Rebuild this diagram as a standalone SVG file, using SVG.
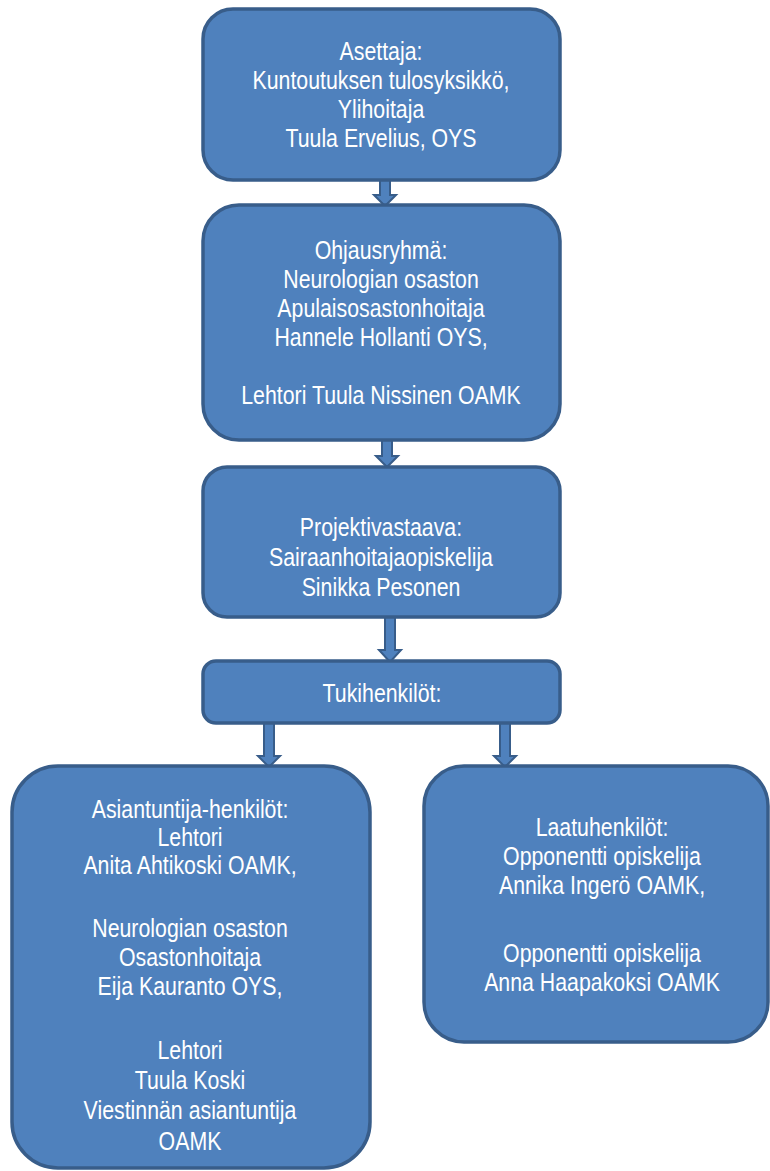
<svg xmlns="http://www.w3.org/2000/svg" width="770" height="1171" viewBox="0 0 770 1171">
<style>
.box{fill:#4F81BD;stroke:#385D8A;stroke-width:3.5}
.arr{fill:#4F81BD;stroke:#385D8A;stroke-width:2;stroke-linejoin:miter}
text{font-family:"Liberation Sans","Arial",sans-serif;font-size:26px;fill:#FFFFFF;text-anchor:middle}
</style>
<rect width="770" height="1171" fill="#FFFFFF"/>
<g id="connectors">
<polygon class="arr" points="380,180 390,180 390,195 396,195 385,206 374,195 380,195"/>
<polygon class="arr" points="382,440 392,440 392,456 398,456 387,467 376,456 382,456"/>
<polygon class="arr" points="385,617 395,617 395,650 401,650 390,662 379,650 385,650"/>
<polygon class="arr" points="264,723 274,723 274,756 280,756 269,767 258,756 264,756"/>
<polygon class="arr" points="500,723 510,723 510,756 516,756 505,767 494,756 500,756"/>
</g>
<g id="asettaja">
<rect class="box" x="203" y="9" width="357" height="171" rx="30"/>
<g transform="translate(381 0) scale(0.82 1)">
<text x="0" y="60">Asettaja:</text>
<text x="0" y="89">Kuntoutuksen tulosyksikkö,</text>
<text x="0" y="118">Ylihoitaja</text>
<text x="0" y="147">Tuula Ervelius, OYS</text>
</g>
</g>
<g id="ohjausryhma">
<rect class="box" x="203" y="205" width="357" height="235" rx="36"/>
<g transform="translate(381 0) scale(0.82 1)">
<text x="0" y="259">Ohjausryhmä:</text>
<text x="0" y="288">Neurologian osaston</text>
<text x="0" y="317">Apulaisosastonhoitaja</text>
<text x="0" y="346">Hannele Hollanti OYS,</text>
<text x="0" y="404">Lehtori Tuula Nissinen OAMK</text>
</g>
</g>
<g id="projektivastaava">
<rect class="box" x="203" y="467" width="357" height="150" rx="24"/>
<g transform="translate(381 0) scale(0.82 1)">
<text x="0" y="536">Projektivastaava:</text>
<text x="0" y="566">Sairaanhoitajaopiskelija</text>
<text x="0" y="596">Sinikka Pesonen</text>
</g>
</g>
<g id="tukihenkilot">
<rect class="box" x="203" y="661" width="357" height="62" rx="13"/>
<g transform="translate(382 0) scale(0.82 1)">
<text x="0" y="702">Tukihenkilöt:</text>
</g>
</g>
<g id="asiantuntijat">
<rect class="box" x="12" y="766" width="358" height="402" rx="46"/>
<g transform="translate(190 0) scale(0.82 1)">
<text x="0" y="818">Asiantuntija-henkilöt:</text>
<text x="0" y="846">Lehtori</text>
<text x="0" y="874">Anita Ahtikoski OAMK,</text>
<text x="0" y="937">Neurologian osaston</text>
<text x="0" y="966">Osastonhoitaja</text>
<text x="0" y="995">Eija Kauranto OYS,</text>
<text x="0" y="1059">Lehtori</text>
<text x="0" y="1089">Tuula Koski</text>
<text x="0" y="1119">Viestinnän asiantuntija</text>
<text x="0" y="1150">OAMK</text>
</g>
</g>
<g id="laatuhenkilot">
<rect class="box" x="424" y="766" width="344" height="276" rx="40"/>
<g transform="translate(602 0) scale(0.82 1)">
<text x="0" y="836">Laatuhenkilöt:</text>
<text x="0" y="865">Opponentti opiskelija</text>
<text x="0" y="894">Annika Ingerö OAMK,</text>
<text x="0" y="962">Opponentti opiskelija</text>
<text x="0" y="991">Anna Haapakoksi OAMK</text>
</g>
</g>
</svg>
